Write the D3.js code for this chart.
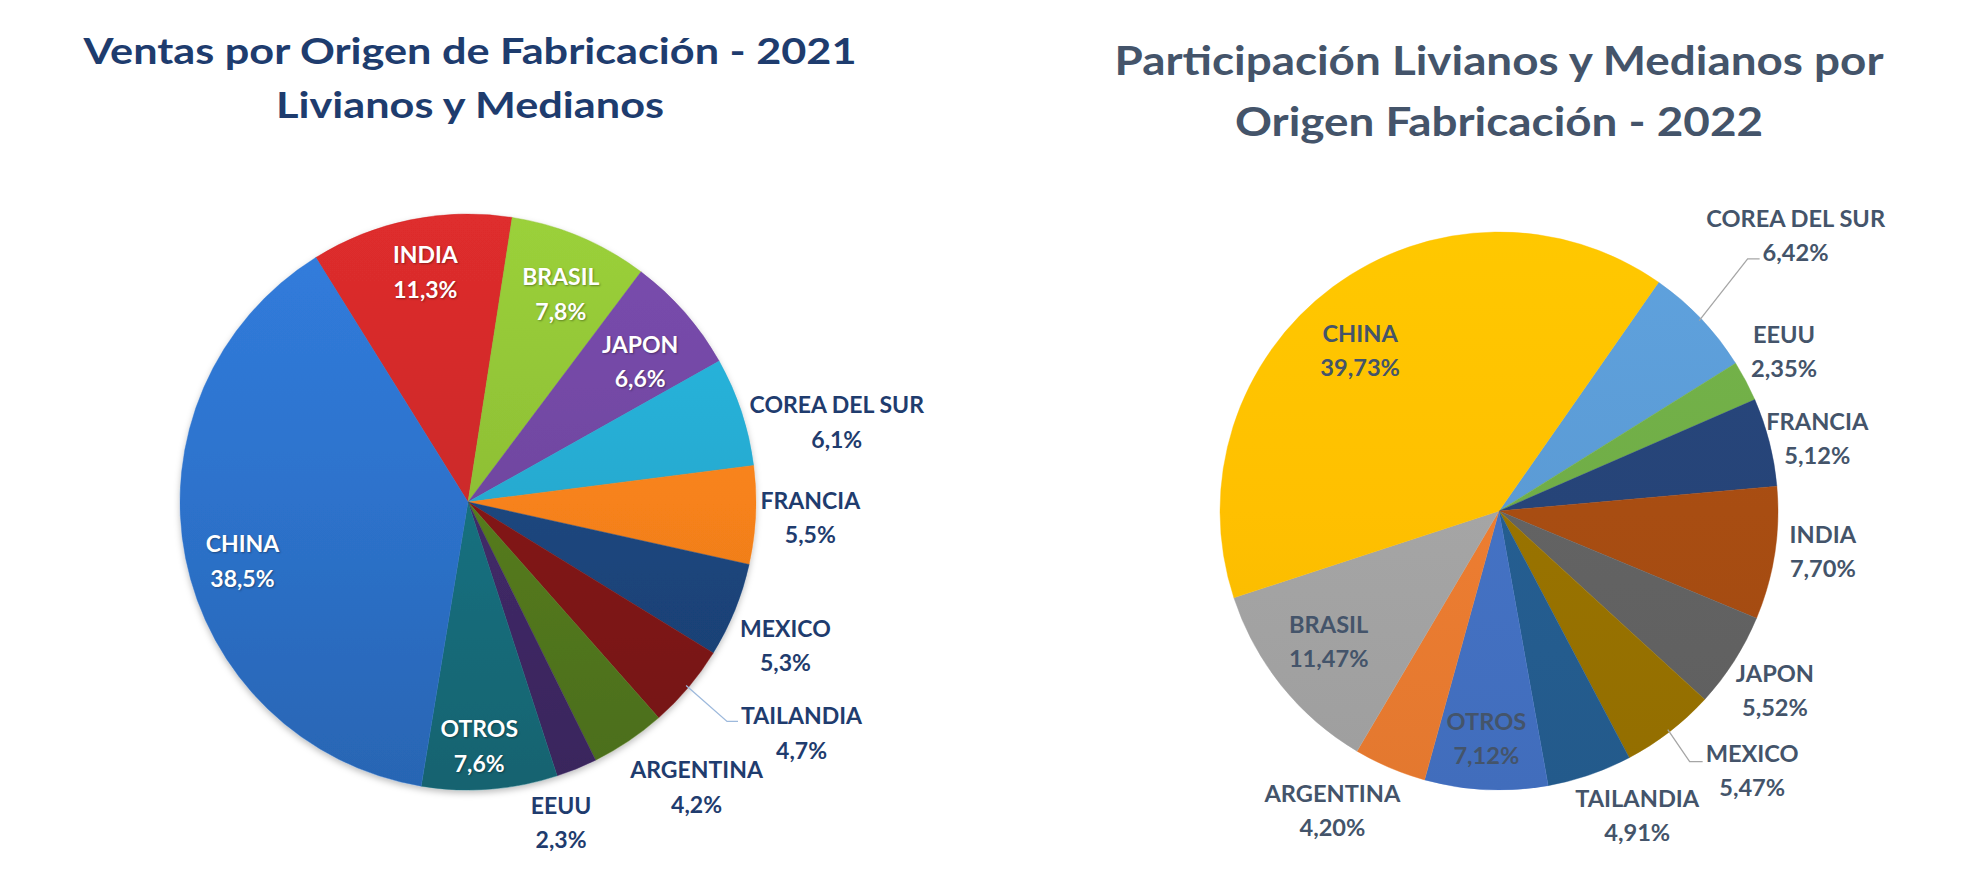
<!DOCTYPE html>
<html><head><meta charset="utf-8">
<script src="https://cdn.jsdelivr.net/npm/d3@7"></script>
<style>html,body{margin:0;padding:0;background:#fff;} svg{display:block;}</style>
</head><body><svg id="chart" width="1962" height="882"></svg>
<script>
// ---------- DATA ----------
const title2021 = ["Ventas por Origen de Fabricación - 2021", "Livianos y Medianos"];
const cats2021 = ["INDIA","BRASIL","JAPON","COREA DEL SUR","FRANCIA","MEXICO","TAILANDIA","ARGENTINA","EEUU","OTROS","CHINA"];
const vals2021 = [11.3, 7.8, 6.6, 6.1, 5.5, 5.3, 4.7, 4.2, 2.3, 7.6, 38.5];
const colors2021 = ["#CC2929","#8EBF35","#7046A0","#25AAD0","#F7821A","#1B467E","#821818","#557B1F","#412A68","#18707F","#2D72CB"];

const title2022 = ["Participación Livianos y Medianos por", "Origen Fabricación - 2022"];
const cats2022 = ["COREA DEL SUR","EEUU","FRANCIA","INDIA","JAPON","MEXICO","TAILANDIA","OTROS","ARGENTINA","BRASIL","CHINA"];
const vals2022 = [6.42, 2.35, 5.12, 7.70, 5.52, 5.47, 4.91, 7.12, 4.20, 11.47, 39.73];
const colors2022 = ["#5B9BD5","#70AD47","#264478","#A84D12","#636363","#997300","#255E91","#4472C4","#ED7D31","#A5A5A5","#FFC000"];

// ---------- LAYOUT ----------
const FONT = "Lato, 'Liberation Sans', Arial, sans-serif";
const CAP = 0.7165; // cap-height ratio of the font
const locale = d3.formatLocale({decimal: ",", thousands: ".", grouping: [3], currency: ["", ""]});

const charts = [
  {
    id: "a", cats: cats2021, vals: vals2021, colors: colors2021, title: title2021,
    fmt: locale.format(".1f"),
    cx: 468, cy: 502, r: 288, startDeg: -31.9,
    titleX: 470, titleBase: [64, 118], titleWidth: 773, titleCap: 26, titleColor: "#1E3C6E",
    labelFitText: "TAILANDIA", labelFitWidth: 121, labelCap: 16.6, lineGap: 34.5,
    outColor: "#1F3C6E", inColor: "#FFFFFF", leaderColor: "#9DB9DC",
    light: 0.25, dark: 0.35, shadow: true,
    // [radius factor, angle offset (deg), inside]
    labelPos: [[0.81,1.0,1],[0.79,1.2,1],[0.77,2.1,1],[1.31,6.1,0],[1.19,0.1,0],[1.21,2.3,0],[1.41,-5.3,0],[1.27,-4.8,0],[1.16,6.0,0],[0.85,1.7,1],[0.81,-3.5,1]],
    leaders: {6: {line: 0, dy: -3, h: 11}}
  },
  {
    id: "b", cats: cats2022, vals: vals2022, colors: colors2022, title: title2022,
    fmt: locale.format(".2f"),
    cx: 1499, cy: 511, r: 279, startDeg: 34.9,
    titleX: 1499, titleBase: [75, 136], titleWidth: 769, titleCap: 29, titleColor: "#44546A",
    labelFitText: "ARGENTINA", labelFitWidth: 136, labelCap: 16.8, lineGap: 34,
    outColor: "#44546A", inColor: "#44546A", leaderColor: "#A6A6A6",
    light: 0.12, dark: 0.12, shadow: false,
    labelPos: [[1.45,0.7,0],[1.17,-1.4,0],[1.17,1.5,0],[1.17,-1.6,0],[1.18,0.5,0],[1.30,-6.6,0],[1.20,-5.4,0],[0.82,0.5,1],[1.23,6.0,0],[0.77,1.2,1],[0.76,-4.3,1]],
    leaders: {0: {line: 1, dy: -2, h: 12}, 5: {line: 0, dy: 0, h: 13}}
  }
];

const svg = d3.select("#chart");
const defs = svg.append("defs");

const sh = defs.append("filter").attr("id", "pieShadow").attr("x", "-10%").attr("y", "-10%").attr("width", "120%").attr("height", "120%");
sh.append("feDropShadow").attr("dx", 0).attr("dy", 3).attr("stdDeviation", 3).attr("flood-color", "#000").attr("flood-opacity", 0.25);

function measure(text, size) {
  const t = svg.append("text").attr("font-family", FONT).attr("font-weight", 700).attr("font-size", size).text(text);
  const w = t.node().getComputedTextLength();
  t.remove();
  return w;
}

// text drawn at a given size and squeezed horizontally by factor k
function drawText(parent, s, x, y, size, k, fill) {
  const t = parent.append("text").attr("x", x).attr("y", y)
    .attr("text-anchor", "middle").attr("font-family", FONT).attr("font-weight", 700)
    .attr("font-size", size).attr("fill", fill).text(s);
  const w = t.node().getComputedTextLength() * k;
  t.attr("textLength", w).attr("lengthAdjust", "spacingAndGlyphs");
  return {t, w};
}

charts.forEach(ch => {
  const g = svg.append("g");
  // title
  const tSize = ch.titleCap / CAP;
  const tK = ch.titleWidth / measure(ch.title[0], tSize);
  ch.title.forEach((line, i) => drawText(g, line, ch.titleX, ch.titleBase[i], tSize, tK, ch.titleColor));

  const toRad = d => d * Math.PI / 180;
  const pie = d3.pie().sort(null).value(d => d.v)
    .startAngle(toRad(ch.startDeg)).endAngle(toRad(ch.startDeg) + 2 * Math.PI);
  const data = ch.cats.map((c, i) => ({c, v: ch.vals[i], col: ch.colors[i], i}));
  const arcs = pie(data);
  const arc = d3.arc().innerRadius(0).outerRadius(ch.r);

  arcs.forEach(a => {
    const base = d3.color(a.data.col);
    const gr = defs.append("linearGradient").attr("id", `g${ch.id}${a.index}`)
      .attr("gradientUnits", "userSpaceOnUse")
      .attr("x1", 0).attr("y1", -ch.r).attr("x2", 0).attr("y2", ch.r);
    gr.append("stop").attr("offset", "0%").attr("stop-color", base.brighter(ch.light).formatHex());
    gr.append("stop").attr("offset", "50%").attr("stop-color", base.formatHex());
    gr.append("stop").attr("offset", "100%").attr("stop-color", base.darker(ch.dark).formatHex());
  });

  const pg = g.append("g").attr("transform", `translate(${ch.cx},${ch.cy})`);
  if (ch.shadow) pg.attr("filter", "url(#pieShadow)");
  pg.selectAll("path").data(arcs).join("path")
    .attr("d", arc)
    .attr("fill", d => `url(#g${ch.id}${d.index})`)
    .attr("stroke", d => d3.color(d.data.col).formatHex())
    .attr("stroke-width", 0.4);

  // labels
  const lSize = ch.labelCap / CAP;
  const lK = ch.labelFitWidth / measure(ch.labelFitText, lSize);
  const lg = g.append("g").attr("transform", `translate(${ch.cx},${ch.cy})`);
  arcs.forEach((a, k) => {
    const [f, off, inside] = ch.labelPos[k];
    const mid = (a.startAngle + a.endAngle) / 2;
    const ang = mid + toRad(off);
    const px = Math.sin(ang) * ch.r * f;
    const py = -Math.cos(ang) * ch.r * f;
    const b1 = py + 8 - ch.lineGap / 2;
    const b2 = py + 8 + ch.lineGap / 2;
    const lines = [a.data.c, ch.fmt(a.data.v) + "%"];
    const col = inside ? ch.inColor : ch.outColor;
    const widths = [];
    lines.forEach((s, li) => {
      const r = drawText(lg, s, px, li ? b2 : b1, lSize, lK, col);
      if (inside && ch.inColor === "#FFFFFF") r.t.style("text-shadow", "1px 1px 2px rgba(0,0,0,0.35)");
      widths.push(r.w);
    });
    const ld = ch.leaders[k];
    if (ld) {
      const ex = px - widths[ld.line] / 2 - 3;
      const ey = (ld.line ? b2 : b1) + ld.dy;
      const sx = Math.sin(mid) * ch.r * 0.99, sy = -Math.cos(mid) * ch.r * 0.99;
      lg.append("path").attr("d", d3.line()([[sx, sy], [ex - ld.h, ey], [ex, ey]]))
        .attr("fill", "none").attr("stroke", ch.leaderColor).attr("stroke-width", 1.3);
    }
  });
});
</script>
</body></html>
